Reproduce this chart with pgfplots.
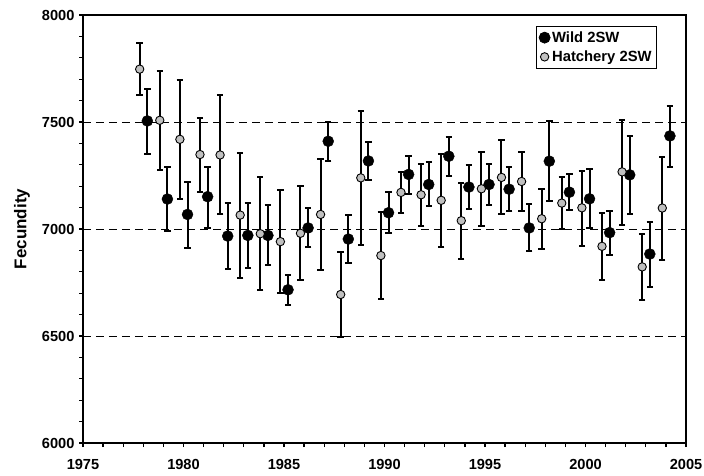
\documentclass[border=0pt]{standalone}
\usepackage{fontspec}
\setmainfont{Liberation Sans}
\usepackage{pgfplots}
\usepackage{pgfplotstable}
\pgfplotsset{compat=1.18}

\pgfplotstableread{
x y hi lo
1978.2 7505 7655 7352
1979.2 7140 7290 6989
1980.2 7068 7220 6913
1981.2 7151 7292 7005
1982.2 6967 7120 6815
1983.2 6970 7123 6817
1984.2 6970 7112 6831
1985.2 6716 6786 6644
1986.2 7005 7098 6915
1987.2 7410 7502 7320
1988.2 6953 7067 6842
1989.2 7318 7407 7230
1990.2 7076 7171 6981
1991.2 7255 7342 7165
1992.2 7208 7311 7109
1993.2 7340 7430 7250
1994.2 7196 7297 7092
1995.2 7208 7306 7110
1996.2 7186 7289 7084
1997.2 7005 7116 6896
1998.2 7317 7505 7129
1999.2 7172 7258 7090
2000.2 7141 7279 7005
2001.2 6983 7082 6879
2002.2 7253 7433 7071
2003.2 6883 7034 6728
2004.2 7435 7576 7290
}\wild

\pgfplotstableread{
x y hi lo
1977.82 7747 7871 7626
1978.82 7508 7738 7276
1979.82 7419 7696 7140
1980.82 7348 7520 7172
1981.82 7346 7624 7068
1982.82 7065 7356 6770
1983.82 6978 7244 6713
1984.82 6941 7183 6699
1985.82 6980 7199 6761
1986.82 7068 7328 6809
1987.82 6694 6893 6495
1988.82 7239 7550 6924
1989.82 6876 7078 6672
1990.82 7171 7266 7076
1991.82 7160 7306 7012
1992.82 7134 7349 6918
1993.82 7039 7216 6862
1994.82 7188 7360 7015
1995.82 7241 7415 7068
1996.82 7222 7360 7082
1997.82 7048 7188 6908
1998.82 7121 7241 7000
1999.82 7099 7273 6922
2000.82 6919 7076 6762
2001.82 7267 7509 7020
2002.82 6823 6978 6666
2003.82 7098 7335 6857
}\hatch

\definecolor{hgray}{RGB}{192,192,192}

\begin{document}
\begin{tikzpicture}
\begin{axis}[
  scale only axis,
  width=603pt, height=428pt,
  xmin=1975, xmax=2005,
  ymin=6000, ymax=8000,
  xtick={1975,1980,...,2005},
  ytick={6000,6500,...,8000},
  minor x tick num=4,
  minor y tick num=4,
  xtick pos=bottom, ytick pos=left,
  tick align=outside,
  major tick length=4pt, minor tick length=4pt,
  every tick/.style={black, line width=1.3pt},
  axis line style={line width=1.8pt},
  ymajorgrids,
  major grid style={black, line width=0.8pt, dash pattern=on 8pt off 5pt},
  /pgf/number format/assume math mode=true,
  /pgf/number format/1000 sep={},
  tick label style={font=\bfseries\fontsize{14.6}{16}\selectfont},
  yticklabel style={xshift=-1pt},
  xticklabel style={yshift=-9pt},
  ylabel={Fecundity},
  every axis y label/.style={at={(axis description cs:0,0.5)}, xshift=-61pt, rotate=90, anchor=center,
    font=\bfseries\fontsize{17}{19}\selectfont},
  legend style={at={(0.952,0.974)}, anchor=north east, draw=black, line width=0.8pt,
    font=\bfseries\fontsize{14.8}{16}\selectfont, inner xsep=3pt, inner ysep=3pt, row sep=3pt,
    legend cell align=left},
  legend image code/.code={\draw[mark repeat=2,mark phase=2] plot coordinates {(0cm,0cm) (0.2cm,0cm) (0.4cm,0cm)};},
]
\coordinate (ll) at (rel axis cs:0,0);
\coordinate (ur) at (rel axis cs:1,1);
\addplot[only marks, mark=*, mark size=5.5pt, mark options={fill=black, draw=black},
  error bars/.cd, y dir=both, y explicit,
  error bar style={line width=2pt, black},
  error mark options={rotate=90, mark size=3.2pt, line width=2pt, black}]
  table[x=x, y=y, y error plus expr=\thisrow{hi}-\thisrow{y}, y error minus expr=\thisrow{y}-\thisrow{lo}] {\wild};
\addlegendentry{Wild 2SW}
\addplot[only marks, mark=*, mark size=4.2pt, mark options={fill=hgray, draw=black, line width=0.9pt},
  error bars/.cd, y dir=both, y explicit,
  error bar style={line width=2pt, black},
  error mark options={rotate=90, mark size=3.2pt, line width=2pt, black}]
  table[x=x, y=y, y error plus expr=\thisrow{hi}-\thisrow{y}, y error minus expr=\thisrow{y}-\thisrow{lo}] {\hatch};
\addlegendentry{Hatchery 2SW}
\end{axis}
\pgfresetboundingbox
\path[use as bounding box] ([shift={(-83pt,-32pt)}]ll) rectangle ([shift={(18pt,15pt)}]ur);
\end{tikzpicture}
\end{document}
